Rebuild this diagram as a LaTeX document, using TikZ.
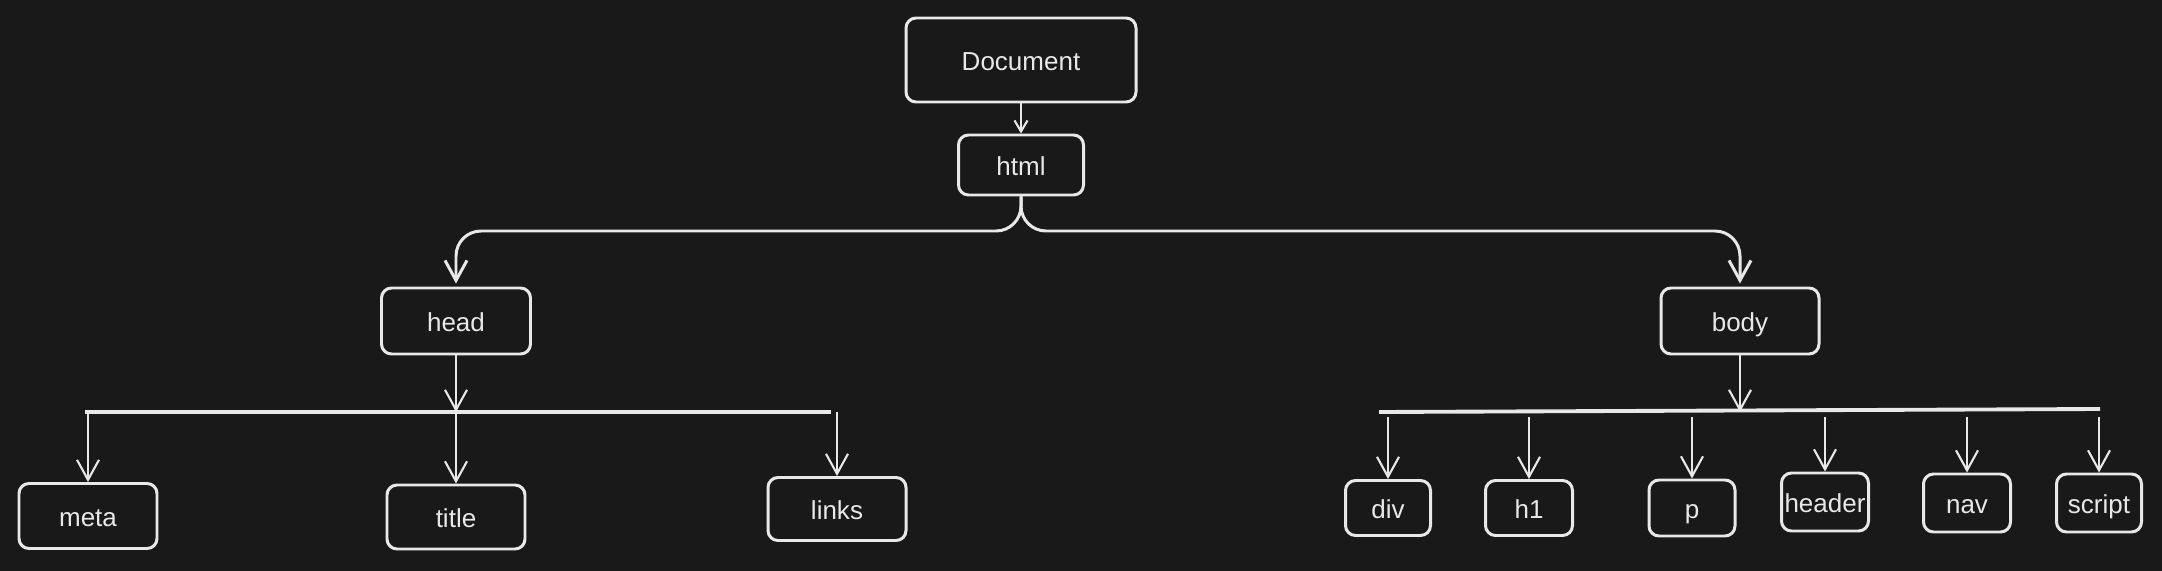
\documentclass[tikz,border=0pt]{standalone}
\usepackage{fontspec}
\setmainfont{Liberation Sans}
\usetikzlibrary{arrows.meta,positioning}
\definecolor{bg}{HTML}{191919}
\definecolor{ink}{HTML}{E8E8E8}

\tikzset{
  box/.style={draw=ink, line width=0.85pt, rounded corners=1mm, text=ink, inner sep=0pt,
    text height=1.55ex, text depth=0.45ex, font=\fontsize{7.4}{9}\selectfont},
  arr/.style={draw=ink, line width=0.6pt, -{Straight Barb[length=2mm,width=2.2mm]}},
  smallarr/.style={draw=ink, line width=0.6pt, -{Straight Barb[length=1.1mm,width=1.3mm]}},
  bar/.style={draw=ink, line width=1.1pt}
}

\begin{document}
\begin{tikzpicture}[x=0.1mm,y=-0.1mm]

\fill[bg] (0,0) rectangle (2162,571);
\useasboundingbox (0,0) rectangle (2162,571);

% top
\node[box, minimum width=23mm, minimum height=8.4mm] (doc) at (1021,60) {Document};
\node[box, minimum width=12.5mm, minimum height=6mm] (html) at (1021,165) {html};
\draw[smallarr] (doc.south) -- (html.north);

% second level
\node[box, minimum width=14.9mm, minimum height=6.6mm] (head) at (456,321) {head};
\node[box, minimum width=15.8mm, minimum height=6.6mm] (body) at (1740,321) {body};

\coordinate (fork) at (1021,231);
\draw[arr, line width=0.85pt, rounded corners=2.5mm, shorten >=0.3mm] (html.south) -- (fork) -| (head.north);
\draw[arr, line width=0.85pt, rounded corners=2.5mm, shorten >=0.3mm] (html.south) -- (fork) -| (body.north);

% head children
\node[box, minimum width=13.8mm, minimum height=6.5mm] (meta) at (88,516) {meta};
\node[box, minimum width=13.8mm, minimum height=6.4mm] (title) at (456,517) {title};
\node[box, minimum width=13.8mm, minimum height=6.3mm] (links) at (837,509) {links};

\coordinate (hbarL) at (85,412);
\coordinate (hbarR) at (831,412);
\draw[bar] (hbarL) -- (hbarR);
\draw[arr] (head.south) -- (head.south |- hbarL);
\draw[arr] (meta.north |- hbarL) -- (meta.north);
\draw[arr] (title.north |- hbarL) -- (title.north);
\draw[arr] (links.north |- hbarL) -- (links.north);

% body children
\node[box, minimum width=8.5mm, minimum height=5.5mm] (div) at (1388,508) {div};
\node[box, minimum width=8.7mm, minimum height=5.5mm] (h1) at (1529,508) {h1};
\node[box, minimum width=8.6mm, minimum height=5.6mm] (p) at (1692,508) {p};
\node[box, minimum width=8.7mm, minimum height=5.8mm] (header) at (1825,502) {header};
\node[box, minimum width=8.7mm, minimum height=5.8mm] (nav) at (1967,503) {nav};
\node[box, minimum width=8.5mm, minimum height=5.8mm] (script) at (2099,503) {script};

\coordinate (bbarL) at (1379,412);
\coordinate (bbarR) at (2100,409);
\draw[bar] (bbarL) -- (bbarR);
\draw[arr] (body.south) -- (body.south |- bbarL);
\foreach \n in {div,h1,p,header,nav,script}
  \draw[arr] ([yshift=-0.5mm]\n.north |- bbarL) -- (\n.north);

\end{tikzpicture}
\end{document}
